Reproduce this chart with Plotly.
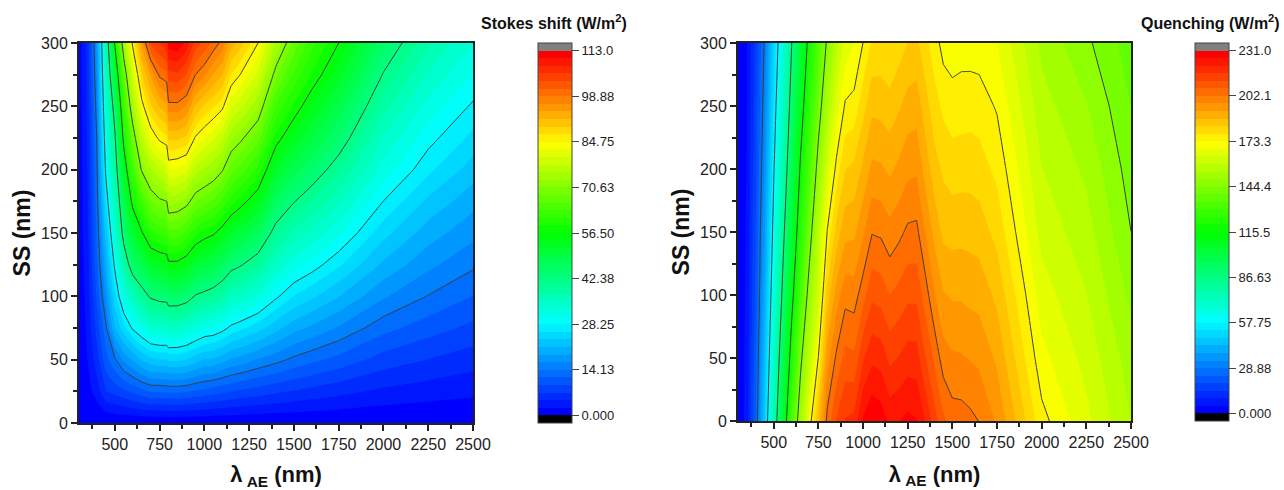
import plotly.graph_objects as go

# ---------- data ----------
ss_wavelength = [300, 350, 400, 450, 500, 550, 600, 650, 700, 750, 790, 800, 850, 900, 950, 1000,
                 1050, 1100, 1150, 1200, 1300, 1400, 1500, 1600, 1750, 2000, 2250, 2500]
ss_shift = [0, 25, 50, 75, 100, 125, 150, 175, 200, 225, 250, 275, 300]
# one inner list per wavelength, ordered by ss_shift
ss_by_wavelength = [
    [0, .3, .4, .5, .5, .6, .6, .7, .7, .8, .8, .9, 1],
    [0, 1.5, 2.5, 3, 3.5, 4, 4.5, 4.7, 5, 5.2, 5.5, 5.8, 6],
    [0, 3.5, 6, 8, 9.8, 11.4, 12.3, 13, 13.7, 14.3, 15.5, 16.8, 18],
    [0, 7, 11, 13.5, 17, 20, 22.5, 26, 29, 31, 33, 35, 37],
    [0, 8, 13.7, 21, 25, 29, 33, 36, 39, 41.5, 45, 51, 57],
    [0, 9, 17, 25, 32, 38.5, 44.5, 48.5, 53, 58, 62.5, 67, 74],
    [0, 10, 19, 28.7, 36, 45.5, 51, 58, 63.5, 68, 74, 79.5, 85.5],
    [0, 11, 21.5, 31, 40, 48, 56, 63, 71, 77, 83.5, 89, 95],
    [0, 12, 23, 33.5, 43, 52, 60.5, 68, 75, 82.5, 89, 94.5, 104],
    [0, 12, 23.5, 34, 44, 53, 62, 70, 77.5, 85.5, 92, 99.5, 106],
    [0, 12.2, 23.5, 34, 44.3, 53.5, 62.5, 70.6, 79, 86.5, 93.5, 100.5, 108],
    [0, 12.2, 24, 35.3, 45.5, 55.5, 65, 74, 82.5, 90, 98, 105, 112],
    [0, 12.3, 24, 35, 45.5, 55.5, 64.8, 73.5, 82, 90, 98, 105.5, 112.5],
    [0, 12, 23.5, 34, 44.5, 54, 63, 72, 81, 89, 96.5, 103.5, 110],
    [0, 11.4, 22.3, 32.3, 42, 51, 59.7, 68.5, 76.5, 84.4, 91.5, 98.9, 105],
    [0, 11, 21, 31, 41, 50, 58, 67, 75, 82.5, 89, 97, 103],
    [0, 10.5, 20.8, 30.5, 40, 48.7, 57, 65.5, 73.5, 80.5, 87.5, 94, 100.5],
    [0, 10, 19.7, 29.3, 38.3, 46.7, 54.8, 63, 71, 78, 85.5, 92, 98],
    [0, 9.5, 18.5, 27.5, 35.5, 44, 52, 60, 66.8, 73.5, 80.5, 87, 93],
    [0, 9, 18, 26.5, 35, 42.8, 50.5, 58, 65, 71.5, 78.5, 84.75, 90.5],
    [0, 8.3, 16.3, 24.5, 32.5, 39.8, 47, 54, 60.5, 67, 73.5, 79.5, 84.75],
    [0, 7.5, 15, 22, 28.8, 35, 40.5, 46.5, 52, 58, 63, 69, 75],
    [0, 6.9, 13.5, 19.7, 25.8, 31.5, 37, 42.6, 48, 53.3, 58.5, 63, 67.5],
    [0, 6.3, 12.4, 18.3, 24, 29.6, 34.8, 39.8, 45, 49.8, 54, 58.7, 62],
    [0, 5.5, 11, 16.2, 21.3, 26.3, 31, 35.7, 40.3, 44.8, 48.8, 52.7, 56.5],
    [0, 4.2, 8.4, 12.6, 16.8, 20.7, 24.4, 28.2, 31.8, 35, 38.5, 42.1, 45.5],
    [0, 3.5, 7, 10.5, 14, 17.1, 20, 23, 26.5, 29.2, 32, 35, 38],
    [0, 2.9, 5.8, 8.8, 11.7, 14.6, 17.2, 19.7, 22.4, 25.2, 27.8, 30.5, 33],
]

q_wavelength = [300, 350, 400, 450, 500, 550, 600, 650, 700, 750, 800, 850, 900, 950, 1000, 1050,
                1100, 1150, 1200, 1250, 1300, 1350, 1400, 1450, 1500, 1550, 1600, 1650, 1750,
                2000, 2250, 2500]
q_shift = [0, 50, 100, 150, 200, 250, 300]
q_by_wavelength = [
    [.5, .5, .5, .5, .5, .5, .5],
    [7, 6.5, 6, 5.5, 5, 4.7, 4.5],
    [24.5, 22.5, 20.5, 19.5, 18, 17, 16],
    [49, 44.8, 41, 38, 35, 32.3, 30],
    [77, 70.6, 65.3, 60.8, 56.9, 53.2, 49.9],
    [104.5, 96.8, 88.9, 82.6, 76.5, 71, 66],
    [130.5, 120.6, 111.7, 104, 97.3, 91.4, 86.3],
    [151.5, 142, 131.4, 123.4, 117, 110, 103.5],
    [170, 158, 149, 140, 132.5, 125.5, 119.5],
    [187, 173.5, 162, 157, 148, 140, 133],
    [204, 195, 184.5, 173.7, 163, 153, 146],
    [212, 203, 194.5, 184.5, 174.8, 165.5, 157],
    [217, 208.5, 200.3, 191, 182.7, 174, 165.5],
    [218, 207.9, 199.8, 191.5, 184, 174.9, 168.5],
    [227, 215.8, 204.9, 196.4, 188.7, 181, 173.3],
    [230.5, 220.2, 210.6, 201.8, 193.7, 186.4, 178.8],
    [229, 219.5, 209.8, 201.3, 193.2, 186, 179.5],
    [225, 215.3, 206.9, 199, 191.6, 184.8, 178],
    [226, 216.8, 208.5, 200.8, 193.6, 187, 180.5],
    [227.5, 218.8, 210.6, 203.1, 196, 189.6, 183],
    [226.5, 218.7, 210.6, 203.4, 196.5, 190.3, 184],
    [221, 212, 204.4, 197, 190.5, 185, 179.5],
    [214, 205.8, 197.7, 191, 185, 180, 175.5],
    [208, 199.5, 193, 186.5, 182, 177, 171.3],
    [204.5, 198, 191.9, 186, 180.6, 175.5, 170.5],
    [204.3, 197.8, 191.9, 186.2, 180.9, 175.7, 171.2],
    [203.4, 197, 191.2, 186, 180.9, 176, 171],
    [202, 196.2, 190.8, 185.4, 180.3, 175.7, 170.8],
    [196.6, 191.6, 186.5, 181.3, 176.8, 172.7, 168.4],
    [175, 170, 166, 162, 159, 156, 152.7],
    [164.9, 162, 159, 156, 153, 149.5, 145.5],
    [154, 151.5, 148, 144.4, 142, 139.5, 137],
]

ss_max = 113.0
q_max = 231.0
ss_ticktext = ["0.000", "14.13", "28.25", "42.38", "56.50", "70.63", "84.75", "98.88", "113.0"]
q_ticktext = ["0.000", "28.88", "57.75", "86.63", "115.5", "144.4", "173.3", "202.1", "231.0"]
x_ticks = [500, 750, 1000, 1250, 1500, 1750, 2000, 2250, 2500]

# ---------- page geometry and styling ----------
W, H = 1284, 490
M_L, M_R, M_T, M_B = 8, 3, 36, 16
N_BANDS = 48


def fx(px):
    return (px - M_L) / (W - M_L - M_R)


def fy(py):
    return 1 - (py - M_T) / (H - M_T - M_B)


def band_rgb(t):
    if t < .25:
        return (0, 255 * 4 * t, 255)
    if t < .5:
        return (0, 255, 255 * (1 - 4 * (t - .25)))
    if t < .75:
        return (255 * 4 * (t - .5), 255, 0)
    return (255, 255 * (1 - 4 * (t - .75)), 0)


def stepped_scale():
    """black under-range band, 48 blue-to-red bands, grey over-range band"""
    colors = ["rgb(0,0,0)"]
    for i in range(N_BANDS):
        r, g, b = band_rgb(i / (N_BANDS - 1))
        colors.append(f"rgb({r:.0f},{g:.0f},{b:.0f})")
    colors.append("rgb(128,128,128)")
    n = len(colors)
    scale = []
    for i, c in enumerate(colors):
        scale.append([i / n, c])
        scale.append([(i + 1) / n, c])
    return scale


def transpose(columns):
    return [list(r) for r in zip(*columns)]


FONT = "Liberation Sans, Arial, sans-serif"
fig = go.Figure()


def add_panel(n, x, y, by_x, vmax, ticktext, left, right, top, bottom, cb_left):
    xa = "x" if n == 1 else f"x{n}"
    ya = "y" if n == 1 else f"y{n}"
    step = vmax / N_BANDS
    tickvals = [vmax * i / 8 for i in range(9)]
    z = transpose(by_x)
    fig.add_trace(go.Contour(
        x=x, y=y, z=z, xaxis=xa, yaxis=ya,
        autocontour=False,
        contours=dict(start=-step, end=vmax + step, size=step, coloring="fill", showlines=False),
        line=dict(width=0, smoothing=0),
        zmin=-step, zmax=vmax + step, colorscale=stepped_scale(),
        hoverinfo="skip",
        colorbar=dict(
            x=fx(cb_left), xanchor="left", xpad=0, ypad=0,
            y=fy(top), yanchor="top",
            len=bottom - top, lenmode="pixels",
            thickness=34, thicknessmode="pixels",
            outlinecolor="#444444", outlinewidth=1,
            tickmode="array", tickvals=tickvals, ticktext=ticktext,
            ticks="outside", ticklen=7, tickwidth=1, tickcolor="#444444",
            tickfont=dict(family=FONT, size=13, color="#222222"),
        ),
    ))
    fig.add_trace(go.Contour(
        x=x, y=y, z=z, xaxis=xa, yaxis=ya,
        autocontour=False, showscale=False, hoverinfo="skip",
        contours=dict(start=vmax / 8, end=vmax * 7 / 8, size=vmax / 8, coloring="none"),
        line=dict(color="#3c3c3c", width=1, smoothing=0),
    ))
    axis_common = dict(
        showgrid=False, zeroline=False, showline=True, mirror=True, automargin=False,
        linecolor="#222222", linewidth=2, ticks="outside", tickcolor="#222222",
        ticklen=6, tickwidth=2, tickfont=dict(family=FONT, size=16, color="#222222"),
    )
    xkey = "xaxis" if n == 1 else f"xaxis{n}"
    ykey = "yaxis" if n == 1 else f"yaxis{n}"
    fig.update_layout({
        xkey: dict(
            axis_common, domain=[fx(left), fx(right)], range=[300, 2500], anchor=ya,
            tickmode="array", tickvals=x_ticks, ticktext=[str(v) for v in x_ticks],
            minor=dict(tickmode="linear", tick0=375, dtick=250, ticks="outside",
                       ticklen=4, tickwidth=1.5, tickcolor="#222222"),
            title=dict(text="<b>\u03bb<sub> AE</sub> (nm)</b>", standoff=16,
                       font=dict(family=FONT, size=22, color="#111111")),
        ),
        ykey: dict(
            axis_common, domain=[fy(bottom), fy(top)], range=[0, 300], anchor=xa,
            tickmode="linear", tick0=0, dtick=50,
            minor=dict(tickmode="linear", tick0=25, dtick=50, ticks="outside",
                       ticklen=4, tickwidth=1.5, tickcolor="#222222"),
            title=dict(text="<b>SS (nm)</b>", standoff=4,
                       font=dict(family=FONT, size=23, color="#111111")),
        ),
    })


add_panel(1, ss_wavelength, ss_shift, ss_by_wavelength, ss_max, ss_ticktext, 79, 473, 43, 423, 538)
add_panel(2, q_wavelength, q_shift, q_by_wavelength, q_max, q_ticktext, 738, 1131, 43, 421, 1195)

fig.update_layout(
    width=W, height=H, autosize=False,
    margin=dict(l=M_L, r=M_R, t=M_T, b=M_B, autoexpand=False),
    paper_bgcolor="white", plot_bgcolor="white",
    showlegend=False,
    annotations=[
        dict(text="<b>Stokes shift (W/m<sup>2</sup>)</b>", x=fx(629), y=fy(22),
             xref="paper", yref="paper", xanchor="right", yanchor="middle", showarrow=False,
             font=dict(family=FONT, size=16, color="#111111")),
        dict(text="<b>Quenching (W/m<sup>2</sup>)</b>", x=fx(1282), y=fy(22),
             xref="paper", yref="paper", xanchor="right", yanchor="middle", showarrow=False,
             font=dict(family=FONT, size=16, color="#111111")),
    ],
)

fig.write_html("out.html", config={"displayModeBar": False},
               post_script="document.body.style.margin='0';document.body.style.overflow='hidden';")
